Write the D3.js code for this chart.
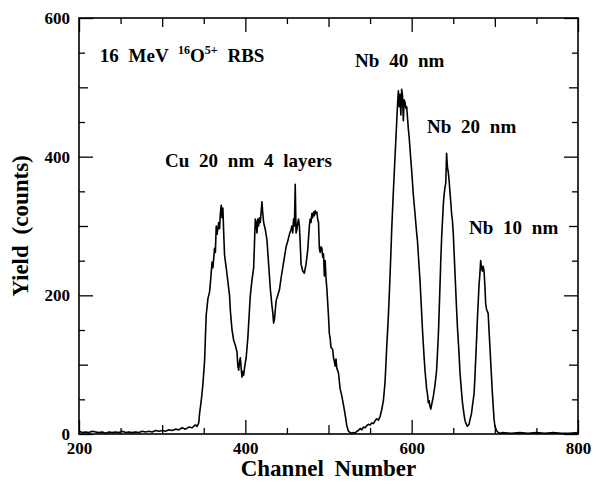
<!DOCTYPE html>
<html><head><meta charset="utf-8">
<script src="https://cdn.jsdelivr.net/npm/d3@7"></script>
<style>
body{margin:0;background:#fff}
svg{display:block}
</style>
</head><body><svg id="c" width="596" height="485"></svg>
<script>
const channel = [200,204,208,212,216,220,224,228,232,236,240,244,248,252,256,260,264,268,272,276,280,284,288,292,296,300,
304,308,312,316,320,324,328,332,336,340,342,344,
345,347,349,351,352,353,355,357,358,360,361,363,364,365,366,368,369,370,371,372,373,374,375,377,379,381,382,384,386,388,390,391,392,393,394,395,396,397,398,399,401,403,405,406,408,410,
411,412,413,414,415,416,417,418,419,420,421,422,424,426,428,430,432,433,434,435,437,439,441,443,445,447,449,451,453,455,456,457,458,459,460,461,462,463,464,465,466,467,469,471,473,475,477,478,479,480,481,482,483,484,485,486,487,488,489,490,491,492,493,494,495,496,497,498,499,500,501,502,503,505,506,507,508,509,510,512,514,516,518,520,522,524,526,528,530,532,534,536,538,540,542,544,546,548,550,552,554,556,558,560,562,564,566,568,569,570,572,573,575,576,578,579,580,582,583,584,585,586,587,588,589,590,591,592,593,594,596,597,599,600,602,604,606,607,609,610,612,613,615,616,618,619,620,621,622,623,624,626,628,630,632,633,635,636,638,639,640,641,642,643,644,645,646,647,648,649,650,652,654,655,657,658,660,661,663,664,665,667,669,670,672,673,675,676,678,679,681,682,683,684,685,686,687,688,689,690,692,693,694,695,697,699,700,702,704,706,710,720,730,740,750,760,770,780,790,800];
const yieldCounts = [4,2,3,2,4,3,2,3,1,3,2,3,2,4,2,3,2,3,2,4,3,4,3,5,4,5,
4,6,5,7,6,9,7,10,9,13,11,16,
30,48,72,105,140,172,195,205,218,248,240,268,262,300,288,305,296,318,330,312,326,290,258,240,220,200,178,150,135,128,118,98,92,104,110,95,82,90,85,95,110,138,180,200,222,240,
275,310,305,290,310,300,312,305,320,335,318,305,295,280,245,210,185,175,160,165,192,200,208,225,240,255,270,278,288,295,300,290,310,300,360,290,295,305,310,300,275,245,235,232,245,265,300,310,305,318,312,320,315,322,318,320,310,305,268,262,270,268,255,260,228,250,225,210,190,170,145,138,125,122,110,105,98,108,95,88,65,55,42,28,12,4,2,1,2,1,4,5,8,6,10,9,12,14,13,16,15,19,22,20,25,35,48,75,100,125,170,198,260,295,350,375,400,450,475,495,472,490,460,497,488,452,482,478,470,472,440,428,395,380,345,318,290,278,240,222,175,150,110,92,65,58,45,48,40,36,42,54,70,92,140,174,250,282,330,345,355,362,405,385,378,366,350,335,318,308,290,235,180,155,115,90,60,46,28,20,16,11,14,20,30,40,58,80,135,165,215,230,250,240,235,242,235,215,188,180,174,150,128,105,60,22,12,5,2,1,2,1,2,1,2,1,2,1,1,2];
const xTickLabels = [200,400,600,800];
const yTickLabels = [0,200,400,600];

const FONT = "'Liberation Serif', 'DejaVu Serif Condensed', 'DejaVu Serif', 'Times New Roman', Times, serif";
const W = 596, H = 485;
const m = {left:79, right:18, top:18, bottom:51};
const iw = W - m.left - m.right, ih = H - m.top - m.bottom;
const svg = d3.select("#c");
svg.style("font-family",FONT);
const g = svg.append("g").attr("transform",`translate(${m.left},${m.top})`);
const x = d3.scaleLinear().domain([200,800]).range([0,iw]);
const y = d3.scaleLinear().domain([0,600]).range([ih,0]);

const xr = d3.range(200,801,50), yr = d3.range(0,601,50);
const groups = [[14,v=>v%200===0],[9,v=>v%200!==0&&v%100===0],[6,v=>v%100!==0]];
groups.forEach(([len,f])=>{
  const xv = xr.filter(f), yv = yr.filter(f);
  const ab = g.append("g").attr("transform",`translate(0,${ih})`).call(d3.axisBottom(x).tickValues(xv).tickSizeInner(-len).tickSizeOuter(0).tickFormat(""));
  const at = g.append("g").call(d3.axisTop(x).tickValues(xv).tickSizeInner(-len).tickSizeOuter(0).tickFormat(""));
  const al = g.append("g").call(d3.axisLeft(y).tickValues(yv).tickSizeInner(-len).tickSizeOuter(0).tickFormat(""));
  const ar = g.append("g").attr("transform",`translate(${iw},0)`).call(d3.axisRight(y).tickValues(yv).tickSizeInner(-len).tickSizeOuter(0).tickFormat(""));
  [ab,at,al,ar].forEach(a=>{a.select(".domain").remove(); a.selectAll("line").attr("stroke","#000").attr("stroke-width",1.3);});
});
// labels
const xl = g.append("g").attr("transform",`translate(0,${ih})`).call(d3.axisBottom(x).tickValues(xTickLabels).tickSize(0).tickPadding(8).tickFormat(d3.format("d")));
xl.select(".domain").remove();
xl.attr("font-family",FONT).attr("font-size",17).attr("font-weight","bold");
const yl = g.append("g").call(d3.axisLeft(y).tickValues(yTickLabels).tickSize(0).tickPadding(9).tickFormat(d3.format("d")));
yl.select(".domain").remove();
yl.attr("font-family",FONT).attr("font-size",17).attr("font-weight","bold");

g.append("rect").attr("width",iw).attr("height",ih).attr("fill","none").attr("stroke","#000").attr("stroke-width",1.6);

const line = d3.line().x((d,i)=>x(channel[i])).y(d=>y(d));
g.append("path").datum(yieldCounts).attr("d",line).attr("fill","none").attr("stroke","#000").attr("stroke-width",1.6).attr("stroke-linejoin","round");

// annotations
function txt(sel){ return sel.attr("font-family",FONT).attr("font-weight","bold").attr("word-spacing","5px").attr("fill","#000"); }
function ann(t, cx, cy, fs){
  return txt(g.append("text")).attr("x",x(cx)).attr("y",y(cy)).attr("font-size",fs).text(t);
}
const t1 = txt(g.append("text")).attr("x",x(225)).attr("y",y(536)).attr("font-size",19);
t1.append("tspan").text("16 MeV ");
t1.append("tspan").attr("font-size",12).attr("dy",-8).text("16");
t1.append("tspan").attr("dy",8).text("O");
t1.append("tspan").attr("font-size",12).attr("dy",-8).text("5+");
t1.append("tspan").attr("dy",8).text(" RBS");
ann("Nb 40 nm",532,529,19);
ann("Nb 20 nm",618.5,434,19);
ann("Nb 10 nm",669,288,19);
ann("Cu 20 nm 4 layers",303.5,385,19);

txt(svg.append("text")).attr("x",m.left+iw/2).attr("y",476).attr("text-anchor","middle").attr("font-size",23).text("Channel Number");
txt(svg.append("text")).attr("transform",`translate(28,${m.top+ih/2}) rotate(-90)`).attr("text-anchor","middle").attr("font-size",23).text("Yield (counts)");
</script></body></html>
